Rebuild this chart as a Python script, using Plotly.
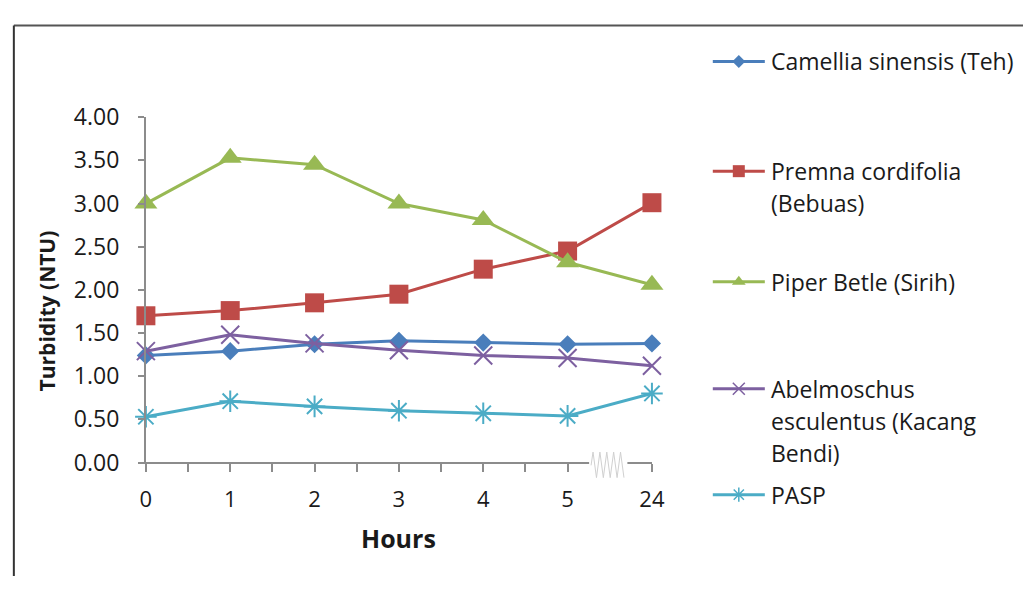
import plotly.graph_objects as go

# Turbidity readings (NTU) per coagulant over time
hours = ["0", "1", "2", "3", "4", "5", "24"]
camellia = [1.24, 1.29, 1.37, 1.41, 1.39, 1.37, 1.38]
premna = [1.70, 1.76, 1.85, 1.95, 2.24, 2.45, 3.01]
piper = [3.00, 3.53, 3.45, 3.00, 2.81, 2.32, 2.06]
abelmoschus = [1.29, 1.48, 1.38, 1.30, 1.24, 1.21, 1.12]
pasp = [0.53, 0.71, 0.65, 0.60, 0.57, 0.54, 0.80]

series_names = [
    "Camellia sinensis (Teh)",
    "Premna cordifolia (Bebuas)",
    "Piper Betle (Sirih)",
    "Abelmoschus esculentus (Kacang Bendi)",
    "PASP",
]
legend_lines = [
    ["Camellia sinensis (Teh)"],
    ["Premna cordifolia", "(Bebuas)"],
    ["Piper Betle (Sirih)"],
    ["Abelmoschus", "esculentus (Kacang", "Bendi)"],
    ["PASP"],
]
series_values = [camellia, premna, piper, abelmoschus, pasp]

colors = ["#4a7ebb", "#be4b48", "#98b954", "#7d60a0", "#4bacc6"]
symbols = ["diamond", "square", "triangle-up", "x-thin", "asterisk-open"]
sizes = [14, 19, 20, 18, 18]
leg_sizes = [10, 12, 12, 12, 12]

W, H = 1036, 591
FONT = "Open Sans"
TXT = "#1a1a1a"
AXIS = "#8c8c8c"

# plot area in pixels
PL, PR, PT, PB = 142.5, 658, 106, 471

def fx(px):
    return px / W

def fy(py):
    return 1 - py / H

idx = list(range(len(hours)))

fig = go.Figure()
for name, vals, c, s, sz in zip(series_names, series_values, colors, symbols, sizes):
    open_marker = s in ("x-thin", "asterisk-open")
    fig.add_trace(go.Scatter(
        x=idx, y=vals, name=name, mode="lines+markers",
        line=dict(color=c, width=3),
        marker=dict(symbol=s, size=sz, color=c,
                    line=dict(color=c, width=2 if open_marker else 0)),
        cliponaxis=False, showlegend=False,
    ))

# Legend built on a full-figure helper axis measured in pixels
leg_y = [47, 163, 280, 393, 505]
LINE_GAP = 34
annotations = []
for lines, c, s, sz, y0 in zip(legend_lines, colors, symbols, leg_sizes, leg_y):
    fig.add_trace(go.Scatter(
        x=[720, 773], y=[y0, y0], mode="lines", line=dict(color=c, width=3),
        xaxis="x2", yaxis="y2", showlegend=False, hoverinfo="skip",
    ))
    open_marker = s in ("x-thin", "asterisk-open")
    fig.add_trace(go.Scatter(
        x=[746.5], y=[y0], mode="markers",
        marker=dict(symbol=s, size=sz, color=c,
                    line=dict(color=c, width=1.5 if open_marker else 0)),
        xaxis="x2", yaxis="y2", showlegend=False, hoverinfo="skip",
    ))
    for k, t in enumerate(lines):
        annotations.append(dict(
            x=777, y=y0 + k * LINE_GAP, xref="x2", yref="y2", text=t,
            showarrow=False, xanchor="left", yanchor="middle",
            font=dict(family=FONT, size=23, color=TXT),
        ))

# axis titles
annotations.append(dict(
    x=42, y=311, xref="x2", yref="y2", text="<b>Turbidity (NTU)</b>",
    textangle=-90, showarrow=False, xanchor="center", yanchor="middle",
    font=dict(family=FONT, size=21, color=TXT),
))
annotations.append(dict(
    x=400, y=551, xref="x2", yref="y2", text="<b>Hours</b>",
    showarrow=False, xanchor="center", yanchor="middle",
    font=dict(family=FONT, size=25, color=TXT),
))

# axis-break marker between the 5 h and 24 h categories
bx0, bx1 = 594, 633
zig = "M {} {} ".format(bx0 + 2, 474)
xx = bx0 + 4
up = True
while xx <= bx1 - 2:
    zig += "L {} {} ".format(xx, 460 if up else 487)
    up = not up
    xx += 3.5
shapes = [
    dict(type="rect", xref="x2", yref="y2", x0=bx0, x1=bx1, y0=456, y1=490,
         fillcolor="white", line=dict(width=0), layer="above"),
    dict(type="path", xref="x2", yref="y2", path=zig,
         line=dict(color="#d0d0d0", width=1), layer="above"),
    # frame
    dict(type="line", xref="x2", yref="y2", x0=8, x1=W, y0=9, y1=9,
         line=dict(color="#555555", width=2)),
    dict(type="line", xref="x2", yref="y2", x0=8, x1=8, y0=9, y1=H,
         line=dict(color="#333333", width=2)),
]

fig.update_layout(
    width=W, height=H,
    margin=dict(l=0, r=0, t=0, b=0),
    paper_bgcolor="white", plot_bgcolor="rgba(0,0,0,0)",
    font=dict(family=FONT, color=TXT),
    showlegend=False,
    xaxis=dict(
        domain=[fx(PL), fx(PR)], range=[0, len(hours) - 1],
        tickmode="array", tickvals=idx, ticktext=hours,
        showgrid=False, zeroline=False, showline=True,
        linecolor=AXIS, linewidth=2,
        ticks="outside", ticklen=8, tickwidth=1.5, tickcolor=AXIS,
        minor=dict(tickmode="array",
                   tickvals=[i + 0.5 for i in idx[:-1]],
                   ticks="outside", ticklen=8, tickwidth=1.5, tickcolor=AXIS),
        tickfont=dict(family=FONT, size=22, color=TXT),
        ticklabelstandoff=8,
    ),
    yaxis=dict(
        domain=[fy(PB), fy(PT)], range=[0, 4], dtick=0.5, tickformat=".2f",
        showgrid=False, zeroline=False, showline=True,
        linecolor=AXIS, linewidth=2,
        ticks="outside", ticklen=6, tickwidth=1.5, tickcolor=AXIS,
        tickfont=dict(family=FONT, size=23, color=TXT),
        ticklabelstandoff=14,
    ),
    xaxis2=dict(domain=[0, 1], range=[0, W], visible=False, fixedrange=True,
                anchor="y2"),
    yaxis2=dict(domain=[0, 1], range=[H, 0], visible=False, fixedrange=True,
                anchor="x2"),
    annotations=annotations,
    shapes=shapes,
)

# the page itself adds no margin around the figure
fig.write_html("out.html", post_script="document.body.style.margin = '0';")
